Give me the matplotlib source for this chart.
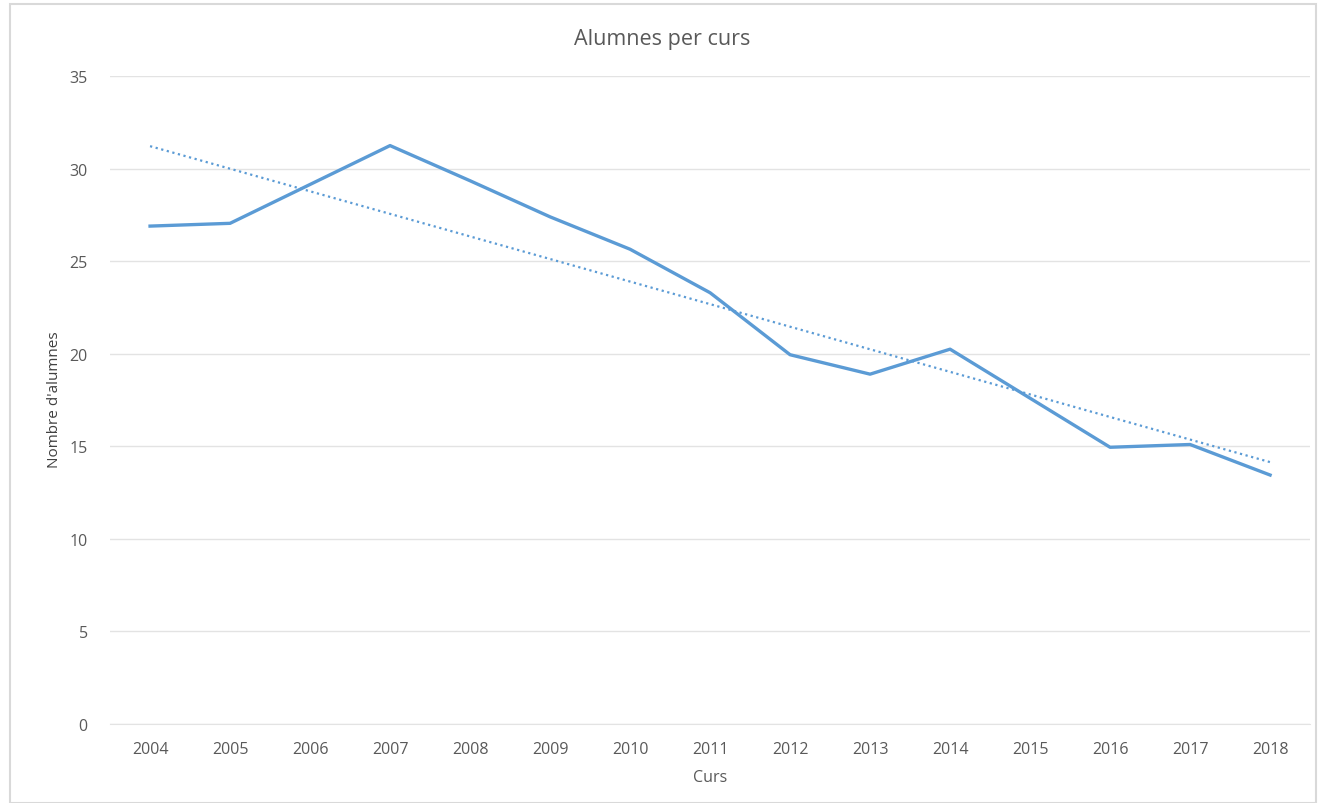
import numpy as np
import matplotlib
matplotlib.use("Agg")
import matplotlib.pyplot as plt
from matplotlib.patches import Rectangle

plt.rcParams['font.family'] = ['Open Sans', 'DejaVu Sans']

# data
years = ['2004', '2005', '2006', '2007', '2008', '2009', '2010', '2011',
         '2012', '2013', '2014', '2015', '2016', '2017', '2018']
alumnes = [26.9, 27.05, 29.15, 31.25, 29.35, 27.4, 25.65, 23.3,
           19.95, 18.9, 20.25, 17.6, 14.95, 15.1, 13.45]

x = np.arange(len(years))
# linear trendline (like Excel's)
coef = np.polyfit(x, alumnes, 1)
trend = np.polyval(coef, x)

fig = plt.figure(figsize=(13.18, 8.04), dpi=100)
ax = fig.add_axes([0.0835, 0.0983, 0.9105, 0.8057])

blue = '#5b9bd5'
ax.plot(x, alumnes, color=blue, linewidth=2.4, solid_joinstyle='round')
ax.plot(x, trend, color=blue, linewidth=1.6, linestyle=(0, (1, 1.6)))

ax.set_xlim(-0.5, len(years) - 0.5)
ax.set_ylim(0, 35)
ax.set_yticks(range(0, 36, 5))
ax.set_xticks(x)
ax.set_xticklabels(years)
ax.grid(axis='y', color='#e3e3e3', linewidth=1)
ax.set_axisbelow(True)
for s in ax.spines.values():
    s.set_visible(False)
ax.spines['bottom'].set_visible(True)
ax.spines['bottom'].set_color('#e3e3e3')
ax.tick_params(length=0, labelsize=11.5, colors='#595959')
ax.tick_params(axis='x', pad=12)
ax.tick_params(axis='y', pad=16)

ax.set_xlabel('Curs', fontsize=11.5, color='#595959', labelpad=9)
fig.text(55 / 1318, 1 - 400 / 804, "Nombre d'alumnes", rotation=90,
         ha='center', va='center', fontsize=11, color='#404040',
         fontstretch='semi-condensed')
fig.text(0.5026, 0.951, 'Alumnes per curs', ha='center', va='center',
         fontsize=15.5, color='#595959')

# light frame around the chart
fig.patches.append(Rectangle((10 / 1318, 0.0), 1306 / 1318, 1 - 5 / 804,
                             transform=fig.transFigure, fill=False,
                             edgecolor='#d9d9d9', linewidth=1.5))

fig.savefig('out.png', dpi=100)
